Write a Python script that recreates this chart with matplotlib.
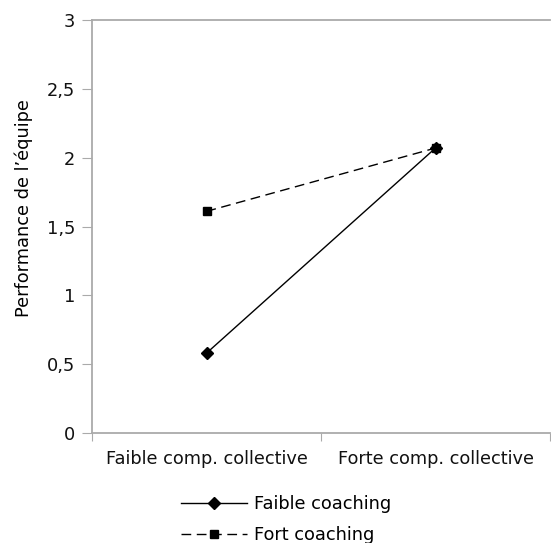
import matplotlib
matplotlib.use("Agg")
import matplotlib.pyplot as plt

plt.rcParams['font.family'] = ['DejaVu Sans']

categories = ["Faible comp. collective", "Forte comp. collective"]
faible_coaching = [0.58, 2.07]
fort_coaching = [1.61, 2.07]
y_ticks = [0, 0.5, 1, 1.5, 2, 2.5, 3]
y_tick_labels = ["0", "0,5", "1", "1,5", "2", "2,5", "3"]

fs = 12.8

fig = plt.figure(figsize=(5.51, 5.43), dpi=100)
ax = fig.add_axes([92 / 551, 1 - 433 / 543, 458 / 551, 413 / 543])

x = list(range(len(categories)))
ax.plot(x, faible_coaching, color="black", lw=1, marker="D", ms=6,
        label="Faible coaching")
ax.plot(x, fort_coaching, color="black", lw=1, dashes=(7, 4), marker="s",
        ms=5.5, label="Fort coaching")

ax.set_xlim(-0.5, 1.5)
ax.set_ylim(0, 3)
ax.set_yticks(y_ticks)
ax.set_yticklabels(y_tick_labels)
ax.set_xticks([-0.5, 0.5, 1.5])
ax.set_xticklabels([])
ax.set_xticks(x, minor=True)
ax.set_xticklabels(categories, minor=True)
ax.tick_params(axis="x", which="minor", length=0, pad=12)
ax.tick_params(axis="x", which="major", length=6, color="#aaaaaa")
ax.tick_params(axis="y", length=7, color="#aaaaaa", pad=5)
ax.tick_params(which="both", labelsize=fs, labelcolor="#111111")

for side in ["left", "bottom", "top"]:
    ax.spines[side].set_color("#aaaaaa")
    ax.spines[side].set_linewidth(1.3)
ax.spines["right"].set_visible(False)

ax.set_ylabel("Performance de l’équipe", fontsize=fs)
ax.yaxis.set_label_coords(-0.128, 0.545)

fig.legend(loc="upper center", bbox_to_anchor=(0.52, 0.118), frameon=False,
           handlelength=3.7, labelspacing=0.75, fontsize=fs,
           handletextpad=0.4)

fig.savefig("out.png", dpi=100)
